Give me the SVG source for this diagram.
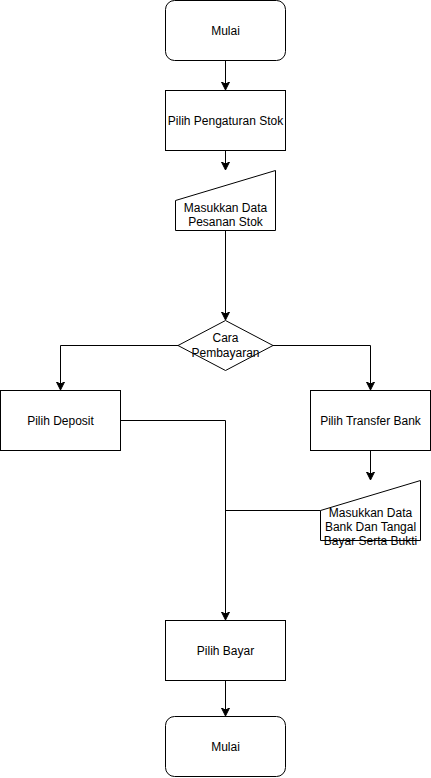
<svg xmlns="http://www.w3.org/2000/svg" width="431" height="778" viewBox="0 0 431 778">
<style>
.s{fill:#fff;stroke:#000;stroke-width:1}
.t{font-family:"Liberation Sans",Arial,sans-serif;font-size:12px;fill:#000;text-anchor:middle}
.c{fill:none;stroke:#000;stroke-width:1}
</style>
<defs>
<marker id="a" markerWidth="10" markerHeight="10" refX="7" refY="4" orient="auto" markerUnits="userSpaceOnUse">
<path d="M0,0 L8,4 L0,8 L2,4 Z" fill="#000" stroke="#000" stroke-width="1"/>
</marker>
</defs>
<rect width="431" height="778" fill="#fff"/>
<g id="connectors">
<path class="c" d="M225.5,60.5 V89" marker-end="url(#a)"/>
<path class="c" d="M225.5,150.5 V169" marker-end="url(#a)"/>
<path class="c" d="M225.5,230.5 V319" marker-end="url(#a)"/>
<path class="c" d="M178,345.5 H60.5 V389" marker-end="url(#a)"/>
<path class="c" d="M273,345.5 H370.5 V389" marker-end="url(#a)"/>
<path class="c" d="M370.5,450.5 V479" marker-end="url(#a)"/>
<path class="c" d="M120.5,420.5 H225.5 V619" marker-end="url(#a)"/>
<path class="c" d="M320.5,510.5 H225.5"/>
<path class="c" d="M225.5,680.5 V715" marker-end="url(#a)"/>
</g>
<g id="start">
<rect class="s" x="165.5" y="0.5" width="120" height="60" rx="9" ry="9"/>
<text class="t" x="225.5" y="35">Mulai</text>
</g>
<g id="pengaturan">
<rect class="s" x="165.5" y="90.5" width="120" height="60"/>
<text class="t" x="225.5" y="125">Pilih Pengaturan Stok</text>
</g>
<g id="input1">
<path class="s" d="M175.5,200.5 L275.5,170.5 V230.5 H175.5 Z"/>
<text class="t" x="225.5" y="212">Masukkan Data</text>
<text class="t" x="225.5" y="226">Pesanan Stok</text>
</g>
<g id="cara">
<path class="s" d="M225.5,320.5 L273,345.5 L225.5,370.5 L178,345.5 Z"/>
<text class="t" x="225.5" y="342">Cara</text>
<text class="t" x="225.5" y="357">Pembayaran</text>
</g>
<g id="deposit">
<rect class="s" x="0.5" y="390.5" width="120" height="60"/>
<text class="t" x="60.5" y="425">Pilih Deposit</text>
</g>
<g id="transfer">
<rect class="s" x="310.5" y="390.5" width="120" height="60"/>
<text class="t" x="370.5" y="425">Pilih Transfer Bank</text>
</g>
<g id="input2">
<path class="s" d="M320.5,510.5 L420.5,480.5 V540.5 H320.5 Z"/>
<text class="t" x="370.5" y="517">Masukkan Data</text>
<text class="t" x="370.5" y="531">Bank Dan Tangal</text>
<text class="t" x="370.5" y="545">Bayar Serta Bukti</text>
</g>
<g id="bayar">
<rect class="s" x="165.5" y="620.5" width="120" height="60"/>
<text class="t" x="225.5" y="655">Pilih Bayar</text>
</g>
<g id="end">
<rect class="s" x="165.5" y="716.5" width="120" height="60" rx="9" ry="9"/>
<text class="t" x="225.5" y="751">Mulai</text>
</g>
</svg>
